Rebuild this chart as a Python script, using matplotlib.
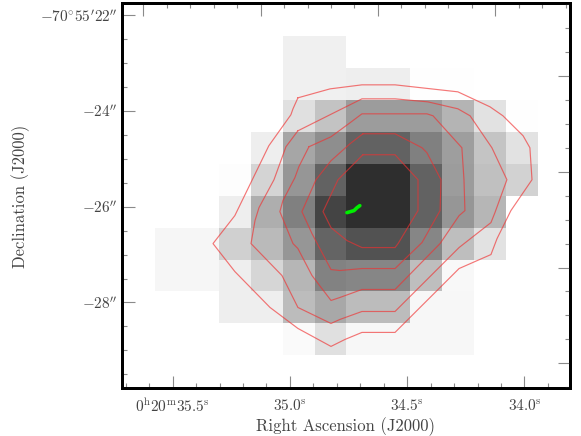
import numpy as np
import matplotlib
matplotlib.use("Agg")
import matplotlib.pyplot as plt

plt.rcParams['font.family'] = ['cmr10', 'DejaVu Serif']
plt.rcParams['mathtext.fontset'] = 'cm'
plt.rcParams['axes.formatter.use_mathtext'] = True

# Grey level (0-255) of each map cell, top row first, columns east to west
cells = [
 [255,255,255,255,240,240,255,255,255,255,255,255],
 [255,255,255,255,240,240,238,238,254,254,255,255],
 [255,255,255,255,224,195,156,156,156,180,226,254],
 [255,255,255,238,166,142, 98, 98,128,158,196,226],
 [255,255,253,212,150, 98, 46, 46, 98,156,192,210],
 [255,255,238,174,128, 68, 46, 46, 98,150,182,255],
 [246,246,208,186,150,100, 82, 82,134,190,226,255],
 [246,246,238,214,182,130,134,134,190,248,255,255],
 [255,255,238,238,188,168,188,188,247,247,255,255],
 [255,255,255,255,250,224,247,247,247,247,255,255],
]

# Contours: right ascension (s) and declination offset (")
c1_ra  = [34.966,34.829,34.761,34.693,34.552,34.284,34.147,34.092,34.006,33.977,33.968,34.058,34.117,34.143,34.279,34.360,34.552,34.693,34.765,34.825,34.966,35.085,35.235,35.328,35.235,35.090,34.996,34.987,34.966]
c1_dec = [-23.729,-23.542,-23.5,-23.458,-23.458,-23.604,-23.917,-24.104,-24.521,-24.771,-25.438,-26.083,-26.667,-27.0,-27.292,-27.688,-28.625,-28.625,-28.771,-28.917,-28.542,-28.104,-27.354,-26.771,-26.188,-24.729,-24.083,-23.958,-23.729]
c2_ra  = [34.966,34.787,34.693,34.552,34.412,34.284,34.232,34.139,34.075,34.126,34.143,34.279,34.552,34.693,34.787,34.825,34.966,35.034,35.166,35.149,35.132,35.068,35.017,34.966]
c2_dec = [-24.417,-23.979,-23.75,-23.75,-23.813,-23.958,-24.104,-24.771,-25.438,-26.125,-26.333,-26.854,-28.188,-28.188,-28.354,-28.438,-28.104,-27.438,-26.771,-26.292,-26.021,-25.438,-24.75,-24.417]
c3_ra  = [34.919,34.825,34.744,34.693,34.416,34.390,34.267,34.258,34.254,34.279,34.360,34.552,34.693,34.787,34.825,34.906,34.966,34.987,35.043,35.030,34.979,34.962,34.919]
c3_dec = [-24.75,-24.542,-24.25,-24.063,-24.063,-24.104,-24.771,-25.438,-26.083,-26.188,-26.771,-27.729,-27.729,-27.896,-27.958,-27.438,-26.875,-26.771,-26.104,-25.875,-25.396,-25.167,-24.75]
c4_ra  = [34.689,34.552,34.437,34.416,34.356,34.360,34.437,34.552,34.693,34.787,34.825,34.906,34.949,34.889,34.825,34.744,34.689]
c4_dec = [-24.479,-24.479,-24.771,-24.875,-25.438,-26.083,-26.75,-27.292,-27.292,-27.333,-27.313,-26.563,-26.104,-25.438,-25.042,-24.688,-24.479]
c5_ra  = [34.689,34.552,34.454,34.454,34.539,34.552,34.693,34.757,34.825,34.859,34.795,34.744,34.689]
c5_dec = [-24.917,-24.917,-25.438,-26.083,-26.771,-26.854,-26.854,-26.708,-26.438,-26.104,-25.438,-25.188,-24.917]
contours = [(c1_ra,c1_dec),(c2_ra,c2_dec),(c3_ra,c3_dec),(c4_ra,c4_dec),(c5_ra,c5_dec)]

jet_ra  = [34.757,34.727,34.714,34.702]
jet_dec = [-26.125,-26.083,-26.021,-25.979]

ra_major = [35.5,35.0,34.5,34.0]
ra_labels = [r'$0^{\rm h}20^{\rm m}35.5^{\rm s}$', r'$35.0^{\rm s}$', r'$34.5^{\rm s}$', r'$34.0^{\rm s}$']
dec_major = [-22,-24,-26,-28]
dec_labels = [r"$-70^{\circ}55'22''$", r"$-24''$", r"$-26''$", r"$-28''$"]
RA_TOP_SHIFT = 0.5
top_major = [35.625,35.125,34.625,34.125]
right_major = [-23.271,-25.271,-27.271,-29.271]

W,H = 581,436
fig = plt.figure(figsize=(W/100,H/100),dpi=100)
ax = fig.add_axes([122/W,1-388/H,448/W,385/H])
xe = np.linspace(35.576,33.942,13)
ye = np.linspace(-22.438,-29.104,11)
ax.pcolormesh(xe,ye,np.array(cells,float),cmap='gray',vmin=0,vmax=255,linewidth=0,rasterized=True,zorder=1)

for r,d in contours:
    ax.plot(r,d,color='#f03030',lw=0.85,alpha=0.65,zorder=3,solid_joinstyle='miter')
ax.plot(jet_ra,jet_dec,color='#00ee00',lw=2.6,solid_capstyle='round',zorder=4)

ax.set_xlim(35.716,33.806)
ax.set_ylim(-29.785,-21.75)

def minors(majors,step,lo,hi):
    base=majors[0]
    n=int((max(lo,hi)-min(lo,hi))/step)+20
    vals=[base+k*step for k in range(-n,n)]
    return [v for v in vals if min(lo,hi)<=v<=max(lo,hi) and not any(abs(v-m)<1e-6 for m in majors)]

xl=ax.get_xlim(); yl=ax.get_ylim()
tc='#8a8a8a'
ax.set_xticks(ra_major); ax.set_xticklabels(ra_labels)
ax.set_yticks(dec_major); ax.set_yticklabels(dec_labels)
ax.set_xticks(minors(ra_major,0.1,*xl),minor=True)
ax.set_yticks(minors(dec_major,0.5,*yl),minor=True)
ax.tick_params(which='major',direction='in',length=9,width=0.8,color=tc,labelsize=11,labelcolor='#444444',pad=7)
ax.tick_params(which='minor',direction='in',length=3.6,width=0.8,color=tc)
ax.tick_params(axis='y',which='major',pad=3)

axt=ax.twiny(); axt.set_xlim(xl)
axt.set_xticks(top_major); axt.set_xticklabels([])
axt.set_xticks(minors(top_major,0.1,*xl),minor=True)
axt.tick_params(which='major',direction='in',length=9,width=0.8,color=tc)
axt.tick_params(which='minor',direction='in',length=3.6,width=0.8,color=tc)
axr=ax.twinx(); axr.set_ylim(yl)
axr.set_yticks(right_major); axr.set_yticklabels([])
axr.set_yticks(minors(right_major,0.5,*yl),minor=True)
axr.tick_params(which='major',direction='in',length=9,width=0.8,color=tc)
axr.tick_params(which='minor',direction='in',length=3.6,width=0.8,color=tc)

for a in (ax,axt,axr):
    for s in a.spines.values():
        s.set_linewidth(2.0); s.set_color('black'); s.set_zorder(10)

fig.text(346/W,1-427/H,'Right Ascension (J2000)',ha='center',va='center',fontsize=12,color='#444444')
fig.text(21/W,1-196/H,'Declination (J2000)',ha='center',va='center',rotation=90,fontsize=12,color='#444444')
fig.savefig('out.png',dpi=100)
